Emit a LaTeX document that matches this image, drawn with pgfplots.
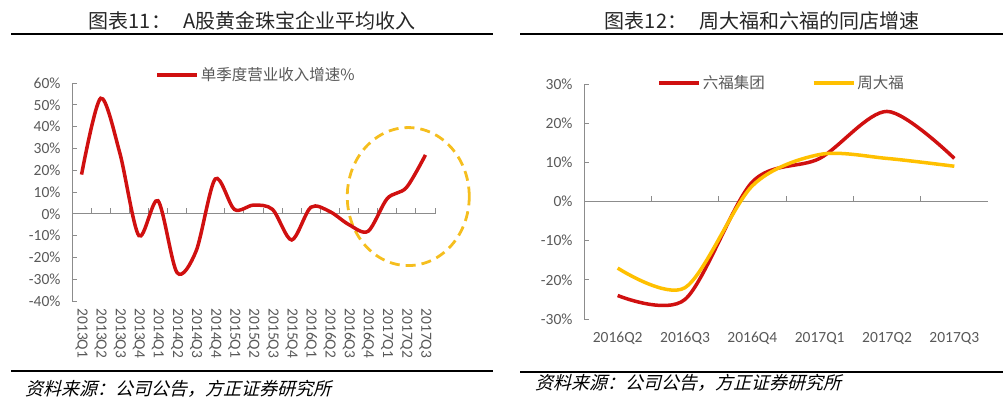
\documentclass[border=0pt]{standalone}
\usepackage{fontspec}
\setmainfont{Carlito}
\newfontfamily\cjk{Noto Sans CJK SC}
\newfontfamily\cjkit[FakeSlant=0.25]{Noto Sans CJK SC}
\usepackage{pgfplots}
\pgfplotsset{compat=1.18}
\definecolor{redline}{RGB}{208,16,16}
\definecolor{goldline}{RGB}{255,192,0}
\definecolor{ringgold}{RGB}{245,190,30}
\definecolor{axisgray}{RGB}{140,140,140}
\definecolor{labelgray}{RGB}{89,89,89}

\pgfplotsset{
  excelstyle/.style={
    scale only axis,
    anchor=south west,
    clip=false,
    axis x line*=bottom,
    axis y line*=left,
    axis line style={-},
    x axis line style={draw=none},
    y axis line style={draw=axisgray, line width=1bp},
    x tick style={draw=none},
    y tick style={draw=axisgray, line width=1bp},
    tick align=inside,
    major tick length=5bp,
    /pgf/number format/assume math mode=true,
    tick label style={font=\fontsize{15.5bp}{18bp}\selectfont, text=labelgray},
    yticklabel={\pgfmathprintnumber{\tick}\%},
    yticklabel style={xshift=-8bp},
    legend image code/.code={\draw[#1] (0bp,0bp) -- (40bp,0bp);},
    legend style={draw=none, fill=none, inner sep=0pt,
      font=\cjk\fontsize{15.5bp}{18bp}\selectfont, text=labelgray},
  }
}

\begin{document}
\begin{tikzpicture}
\path[use as bounding box] (0bp,0bp) rectangle (1006bp,410bp);

% 标题与分隔线
\node[font=\cjk\fontsize{20bp}{24bp}\selectfont, text=black!85] at (252bp,389bp) {图表11：\hspace{0.6em}A股黄金珠宝企业平均收入};
\node[font=\cjk\fontsize{20bp}{24bp}\selectfont, text=black!85] at (762bp,389bp) {图表12：\hspace{0.6em}周大福和六福的同店增速};
\draw[line width=2.5bp] (11bp,376bp) -- (493bp,376bp);
\draw[line width=2.5bp] (520bp,376bp) -- (1003bp,376bp);
\draw[line width=2.5bp] (11bp,39bp) -- (493bp,39bp);
\draw[line width=2.5bp] (520bp,38bp) -- (1003bp,38bp);
\node[anchor=west, font=\cjkit\fontsize{18bp}{22bp}\selectfont] at (22bp,21bp) {资料来源：公司公告，方正证券研究所};
\node[anchor=west, font=\cjkit\fontsize{18bp}{22bp}\selectfont] at (532bp,27bp) {资料来源：公司公告，方正证券研究所};

% 图表11
\begin{axis}[
    excelstyle,
    at={(72bp,109bp)},
    width=363bp, height=218bp,
    xmin=-0.5, xmax=18.5,
    ymin=-40, ymax=60,
    ytick={-40,-30,...,60},
    xtick={0,...,18},
    xticklabels={2013Q1,2013Q2,2013Q3,2013Q4,2014Q1,2014Q2,2014Q3,2014Q4,2015Q1,2015Q2,2015Q3,2015Q4,2016Q1,2016Q2,2016Q3,2016Q4,2017Q1,2017Q2,2017Q3},
    xticklabel style={rotate=-90, anchor=west},
    xticklabel shift=4bp,
    legend style={at={(0.229,1.037)}, anchor=west},
]
    \draw[axisgray, line width=1bp] (axis cs:-0.5,0) -- (axis cs:18.5,0);
    \pgfplotsinvokeforeach{0.5,1.5,...,18.5}{\draw[axisgray, line width=1bp] (axis cs:#1,0) -- ++(0bp,6bp);}
    \draw[ringgold, line width=2.8bp, dash pattern=on 10bp off 6bp] (axis cs:17.1,7.9) ellipse [x radius=61bp, y radius=69bp];
    \addplot[redline, line width=3.5bp, smooth] coordinates {
        (0,18) (1,53) (2,28) (3,-10) (4,6) (5,-27) (6,-17) (7,16) (8,2) (9,4)
        (10,2) (11,-12) (12,3) (13,1) (14,-5) (15,-8) (16,7) (17,12) (18,27)};
    \addlegendentry{单季度营业收入增速\%}
\end{axis}

% 图表12
\begin{axis}[
    excelstyle,
    at={(584bp,91bp)},
    width=404bp, height=235bp,
    xmin=-0.5, xmax=5.5,
    ymin=-30, ymax=30,
    ytick={-30,-20,...,30},
    xtick={0,...,5},
    xticklabels={2016Q2,2016Q3,2016Q4,2017Q1,2017Q2,2017Q3},
    xticklabel style={yshift=-10bp},
    legend columns=2,
    legend style={at={(0.181,1.004)}, anchor=west,
      /tikz/every even column/.append style={column sep=45bp}},
]
    \draw[axisgray, line width=1bp] (axis cs:-0.5,0) -- (axis cs:5.5,0);
    \pgfplotsinvokeforeach{0.5,1.5,...,4.5}{\draw[axisgray, line width=1bp] (axis cs:#1,0) -- ++(0bp,6bp);}
    \addplot[redline, line width=3.5bp, smooth] coordinates {
        (0,-24) (1,-25) (2,5) (3,11) (4,23) (5,11)};
    \addlegendentry{六福集团}
    \addplot[goldline, line width=3.5bp, smooth] coordinates {
        (0,-17) (1,-22) (2,4) (3,12) (4,11) (5,9)};
    \addlegendentry{周大福}
\end{axis}
\end{tikzpicture}
\end{document}
